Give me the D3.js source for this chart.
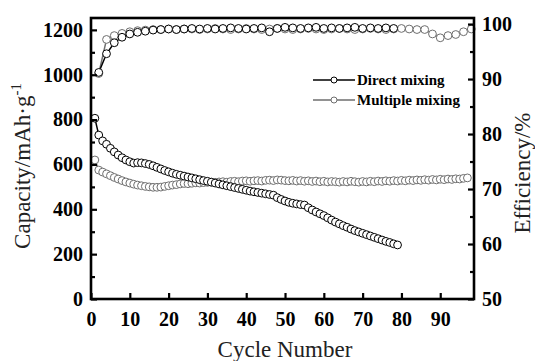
<!DOCTYPE html>
<html>
<head>
<meta charset="utf-8">
<script src="https://cdn.jsdelivr.net/npm/d3@7"></script>
<style>
  html, body { margin: 0; padding: 0; background: #fff; }
  svg { display: block; font-family: "Liberation Serif", "Times New Roman", serif; }
  .axis-title { font-size: 23px; fill: #222; }
  .legend-label { font-weight: bold; font-size: 15px; fill: #000; }
</style>
</head>
<body>
<div id="chart"></div>
<script>
// capacity, one value per cycle starting at cycle 1
const directCapacity = [
  806, 731, 705, 690, 672, 656, 642, 630, 620, 612,
  606, 608, 607, 604, 600, 594, 587, 580, 573, 567,
  561, 556, 552, 548, 544, 540, 536, 532, 528, 525,
  521, 517, 513, 509, 505, 501, 497, 493, 489, 485,
  481, 478, 475, 472, 469, 466, 463, 452, 444, 437,
  431, 427, 424, 421, 419, 407, 397, 388, 380, 372,
  362, 352, 343, 335, 327, 320, 312, 305, 299, 293,
  287, 281, 275, 269, 263, 257, 252, 246, 241,
];
const multipleCapacity = [
  620, 575, 566, 558, 550, 542, 535, 528, 522, 517,
  512, 508, 505, 502, 500, 498, 498, 499, 502, 505,
  508, 510, 513, 515, 514, 516, 518, 517, 519, 520,
  521, 520, 522, 523, 521, 524, 525, 523, 526, 527,
  525, 527, 528, 526, 529, 530, 528, 531, 530, 528,
  527, 529, 526, 528, 525, 527, 524, 526, 523, 525,
  522, 524, 523, 521, 524, 522, 525, 523, 521, 524,
  522, 525, 523, 526, 524, 527, 525, 528, 526, 529,
  527, 530, 528, 531, 529, 532, 530, 533, 531, 534,
  532, 535, 533, 536, 535, 538, 540,
];
// coulombic efficiency, every second cycle starting at cycle 2
const directEfficiency = [
  91.2, 94.6, 96.6, 97.6, 98.2, 98.5, 98.7, 98.9, 99.0, 99.1,
  99.0, 99.1, 99.2, 99.1, 99.2, 99.1, 99.2, 99.3, 99.2, 99.1,
  99.2, 99.3, 98.6, 99.2, 99.4, 99.3, 99.2, 99.3, 99.4, 99.2,
  99.3, 99.2, 99.3, 99.4, 99.2, 99.3, 99.2, 99.3, 99.2,
];
const multipleEfficiency = [
  91.0, 97.2, 97.9, 98.3, 98.6, 98.8, 98.9, 99.0, 99.0, 99.1,
  99.0, 99.1, 99.1, 99.0, 99.1, 99.2, 99.1, 99.0, 99.1, 99.2,
  99.1, 99.0, 99.1, 99.2, 99.1, 99.0, 99.1, 99.2, 99.1, 99.0,
  99.1, 99.2, 99.1, 99.0, 99.1, 99.2, 99.1, 99.0, 99.1, 99.2,
  99.1, 99.0, 99.0, 98.2, 97.5, 97.9, 98.1, 98.6, 99.1,
];

const capacityTicks = [0, 200, 400, 600, 800, 1000, 1200];
const capacityMinorTicks = [100, 300, 500, 700, 900, 1100];
const efficiencyTicks = [50, 60, 70, 80, 90, 100];
const efficiencyMinorTicks = [55, 65, 75, 85, 95];
const cycleTicks = [0, 10, 20, 30, 40, 50, 60, 70, 80, 90];

const seriesNames = ["Direct mixing", "Multiple mixing"];
const seriesColors = ["#000", "#6e6e6e"];

const width = 535;
const height = 361;
const margin = { top: 18, right: 61, bottom: 62, left: 91 };

const svg = d3.select("#chart").append("svg")
  .attr("width", width)
  .attr("height", height);

const x = d3.scaleLinear().domain([0, 98.7])
  .range([margin.left, width - margin.right]);
const yCap = d3.scaleLinear().domain([0, 1253])
  .range([height - margin.bottom, margin.top]);
const yEff = d3.scaleLinear().domain([50, 101.1])
  .range([height - margin.bottom, margin.top]);

const toPoints = (values, first, step) =>
  values.map((v, i) => ({ cycle: first + i * step, value: v }));

const series = [
  { color: seriesColors[1], y: yCap, points: toPoints(multipleCapacity, 1, 1) },
  { color: seriesColors[0], y: yCap, points: toPoints(directCapacity, 1, 1) },
  { color: seriesColors[1], y: yEff, points: toPoints(multipleEfficiency, 2, 2) },
  { color: seriesColors[0], y: yEff, points: toPoints(directEfficiency, 2, 2) },
];

const plot = svg.append("g");

series.forEach((s) => {
  const line = d3.line()
    .x((d) => x(d.cycle))
    .y((d) => s.y(d.value));
  const g = plot.append("g");
  g.append("path")
    .datum(s.points)
    .attr("fill", "none")
    .attr("stroke", s.color)
    .attr("stroke-width", 1.5)
    .attr("d", line);
  g.selectAll("circle")
    .data(s.points)
    .join("circle")
    .attr("cx", (d) => x(d.cycle))
    .attr("cy", (d) => s.y(d.value))
    .attr("r", 3.9)
    .attr("fill", "#fff")
    .attr("stroke", s.color)
    .attr("stroke-width", 1);
});

// frame + axes
const axisWidth = 2.6;
const plotLeft = margin.left, plotRight = width - margin.right;
const plotTop = margin.top, plotBottom = height - margin.bottom;
const fmt = d3.format("d");

function styleAxis(g) {
  g.attr("font-family", null).attr("font-size", null);
  g.select(".domain").remove();
  g.selectAll(".tick line").attr("stroke", "#000").attr("stroke-width", 2.2);
  g.selectAll(".tick text")
    .attr("fill", "#000")
    .style("font-family", "'Liberation Serif', 'Times New Roman', serif")
    .style("font-weight", "bold")
    .style("font-size", "20px");
}

svg.append("g")
  .attr("transform", `translate(0,${plotBottom})`)
  .call(d3.axisBottom(x).tickValues(cycleTicks).tickFormat(fmt).tickSize(-6).tickPadding(13))
  .call(styleAxis);

svg.append("g")
  .attr("transform", `translate(${plotLeft},0)`)
  .call(d3.axisLeft(yCap).tickValues(capacityTicks).tickFormat(fmt).tickSize(-6).tickPadding(8))
  .call(styleAxis);
svg.append("g")
  .attr("transform", `translate(${plotLeft},0)`)
  .call(d3.axisLeft(yCap).tickValues(capacityMinorTicks).tickSize(-4).tickFormat(""))
  .call(styleAxis);

svg.append("g")
  .attr("transform", `translate(${plotRight},0)`)
  .call(d3.axisRight(yEff).tickValues(efficiencyTicks).tickFormat(fmt).tickSize(-6).tickPadding(8))
  .call(styleAxis);
svg.append("g")
  .attr("transform", `translate(${plotRight},0)`)
  .call(d3.axisRight(yEff).tickValues(efficiencyMinorTicks).tickSize(-4).tickFormat(""))
  .call(styleAxis);

svg.append("rect")
  .attr("x", plotLeft)
  .attr("y", plotTop)
  .attr("width", plotRight - plotLeft)
  .attr("height", plotBottom - plotTop)
  .attr("fill", "none")
  .attr("stroke", "#000")
  .attr("stroke-width", axisWidth);

// axis titles
svg.append("text")
  .attr("class", "axis-title")
  .attr("transform", "translate(30,166) rotate(-90)")
  .attr("text-anchor", "middle")
  .call((t) => {
    t.append("tspan").text("Capacity/mAh·g");
    t.append("tspan").attr("dy", -9).style("font-size", "15px").text("-1");
  });

svg.append("text")
  .attr("class", "axis-title")
  .attr("transform", "translate(530,173) rotate(-90)")
  .attr("text-anchor", "middle")
  .text("Efficiency/%");

svg.append("text")
  .attr("class", "axis-title")
  .attr("x", 285)
  .attr("y", 357)
  .attr("text-anchor", "middle")
  .text("Cycle Number");

// legend
const legend = svg.append("g").attr("transform", "translate(313,80)");
seriesNames.forEach((name, i) => {
  const row = legend.append("g").attr("transform", `translate(0,${i * 20})`);
  row.append("line")
    .attr("x1", 0).attr("x2", 42)
    .attr("stroke", seriesColors[i])
    .attr("stroke-width", 1.5);
  row.append("circle")
    .attr("cx", 21).attr("r", 3)
    .attr("fill", "#fff")
    .attr("stroke", seriesColors[i]);
  row.append("text")
    .attr("class", "legend-label")
    .attr("x", 44)
    .attr("dy", "0.33em")
    .text(name);
});
</script>
</body>
</html>
